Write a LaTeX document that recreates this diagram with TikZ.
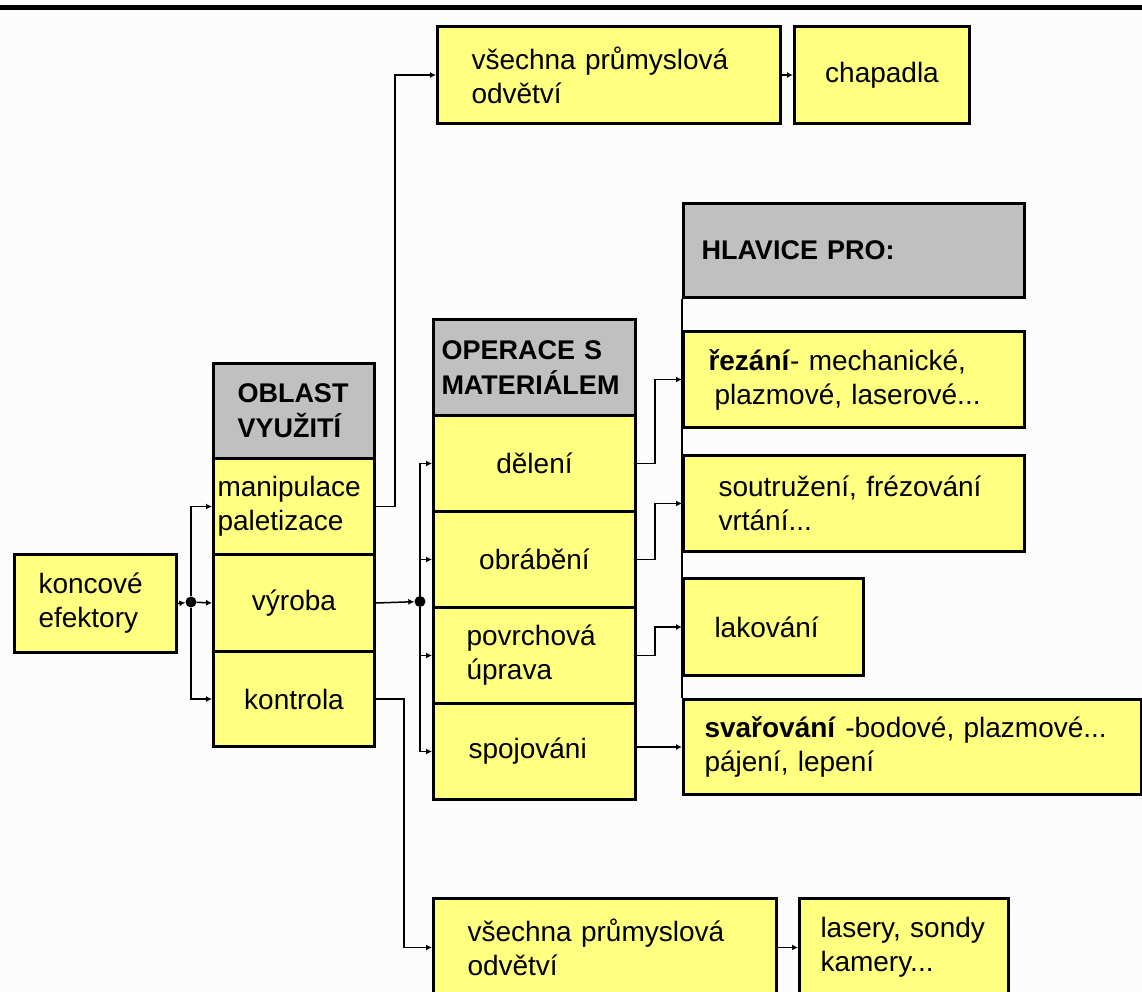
\documentclass[tikz,border=0pt]{standalone}
\usepackage{fontspec}
\setmainfont{Liberation Sans}
\usetikzlibrary{arrows.meta}
\definecolor{yel}{RGB}{255,255,128}
\definecolor{gry}{RGB}{192,192,192}
\begin{document}
\begin{tikzpicture}[x=1pt,y=-1pt,
  box/.style={draw=black,line width=3pt,fill=yel,rectangle,anchor=north west,inner ysep=0pt,
    font=\fontsize{28}{34}\selectfont},
  hdr/.style={box,fill=gry,font=\fontsize{27}{35}\selectfont\bfseries},
  conn/.style={line width=1.5pt,-{Latex[length=6pt,width=6pt]}},
  plain/.style={line width=1.5pt},
  dot/.style={circle,fill=black,inner sep=0pt,minimum size=11pt}]
\useasboundingbox (0,0) rectangle (1142,992);
\fill[white!99!black] (0,0) rectangle (1142,992);
\fill[black] (0,5.5) rectangle (1142,10.5);

% left
\node[box,minimum height=98pt,text width=114pt,inner xsep=24pt,align=left] (konc) at (13,553) {koncové\\efektory};

% OBLAST column
\node[hdr,minimum height=95pt,text width=113pt,inner xsep=24pt,align=left] (oblh) at (212,362) {OBLAST\\VYUŽITÍ};
\node[box,minimum height=96pt,text width=153pt,inner xsep=4pt,align=left] (manip) at (212,457) {manipulace\\paletizace};
\node[box,minimum height=97pt,text width=151pt,inner xsep=5pt,align=center] (vyroba) at (212,553) {výroba};
\node[box,minimum height=95pt,text width=151pt,inner xsep=5pt,align=center] (kontr) at (212,650) {kontrola};

% OPERACE column
\node[hdr,minimum height=96pt,text width=186pt,inner xsep=8pt,align=left] (operh) at (432,318) {OPERACE S\\MATERIÁLEM};
\node[box,minimum height=96pt,text width=190pt,inner xsep=6pt,align=center] (deleni) at (432,414) {dělení};
\node[box,minimum height=96pt,text width=190pt,inner xsep=6pt,align=center] (obrab) at (432,510) {obrábění};
\node[box,minimum height=96pt,text width=136pt,inner xsep=33pt,align=left] (povrch) at (432,606) {povrchová\\úprava};
\node[box,minimum height=96pt,text width=132pt,inner xsep=35pt,align=left] (spoj) at (432,702) {spojováni};

% top row
\node[box,minimum height=97pt,text width=275pt,inner xsep=34pt,align=left] (top1) at (436,25) {všechna průmyslová\\odvětví};
\node[box,minimum height=97pt,text width=163pt,inner xsep=6pt,align=center] (chap) at (793,25) {chapadla};

% HLAVICE column
\node[hdr,minimum height=94pt,text width=305pt,inner xsep=18pt,align=left] (hlav) at (682,202) {HLAVICE PRO:};
\node[box,minimum height=96pt,text width=291pt,inner xsep=25pt,align=left] (rez) at (682,330) {\textbf{řezání}- mechanické,\\\hspace*{6pt}plazmové, laserové...};
\node[box,minimum height=96pt,text width=271pt,inner xsep=35pt,align=left] (sout) at (682,454) {soutružení, frézování\\vrtání...};
\node[box,minimum height=97pt,text width=118pt,inner xsep=31pt,align=left] (lak) at (682,577) {lakování};
\node[box,minimum height=95pt,text width=416pt,inner xsep=21pt,align=left] (svar) at (682,698) {\textbf{svařování} -bodové, plazmové...\\pájení, lepení};

% bottom row
\node[box,minimum height=98pt,text width=275pt,inner xsep=34pt,align=left] (bot1) at (432,897) {všechna průmyslová\\odvětví};
\node[box,minimum height=98pt,text width=167pt,inner xsep=21pt,align=left] (las) at (798,897) {lasery, sondy\\kamery...};

% junctions
\node[dot] (j1) at (191,602) {};
\node[dot] (j2) at (420,601.5) {};

% connectors
\draw[conn] (konc.east) -- (j1);
\draw[conn] (j1) |- (manip.west);
\draw[conn] (j1) -- (vyroba.west);
\draw[conn] (j1) |- (kontr.west);

\draw[conn] (manip.east) -- ++(19,0) |- (top1.west);
\draw[conn] (top1.east) -- (chap.west);
\draw[conn] (kontr.east) -- ++(28,0) |- (bot1.west);
\draw[conn] (bot1.east) -- (las.west);

\draw[conn] (vyroba.east) -- (j2);
\draw[conn] (j2) |- (deleni.west);
\draw[conn] (j2) |- (obrab.west);
\draw[conn] (j2) |- (povrch.west);
\draw[conn] (j2) |- (spoj.west);

\draw[conn] (deleni.east) -- ++(18,0) |- (rez.west);
\draw[conn] (obrab.east) -- ++(18,0) |- (sout.west);
\draw[conn] (povrch.east) -- ++(18,0) |- (lak.west);
\draw[conn] (svar.west -| spoj.east) -- (svar.west);

\draw[plain] (hlav.south west) -- (svar.north west);
\end{tikzpicture}
\end{document}
